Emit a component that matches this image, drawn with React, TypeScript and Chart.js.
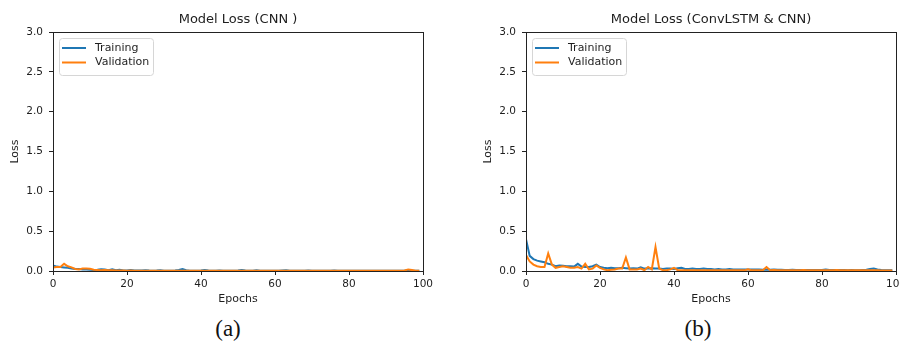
import React, { useEffect, useRef } from "react";
import { Chart, registerables } from "chart.js";

Chart.register(...registerables);

// Loss per epoch (epochs 0..99)
const cnnTraining = [
  0.07, 0.055, 0.05, 0.045, 0.04, 0.03, 0.025, 0.025, 0.02, 0.02,
  0.015, 0.012, 0.015, 0.022, 0.02, 0.01, 0.022, 0.01, 0.016, 0.006,
  0.006, 0.012, 0.006, 0.005, 0.006, 0.01, 0.005, 0.004, 0.005, 0.008,
  0.004, 0.004, 0.004, 0.005, 0.012, 0.025, 0.01, 0.004, 0.004, 0.004,
  0.006, 0.012, 0.006, 0.004, 0.003, 0.007, 0.003, 0.003, 0.003, 0.003,
  0.006, 0.011, 0.005, 0.003, 0.004, 0.008, 0.003, 0.003, 0.003, 0.003,
  0.003, 0.003, 0.005, 0.008, 0.003, 0.003, 0.003, 0.003, 0.003, 0.006,
  0.003, 0.003, 0.003, 0.003, 0.003, 0.004, 0.007, 0.003, 0.003, 0.003,
  0.003, 0.003, 0.003, 0.003, 0.003, 0.003, 0.003, 0.003, 0.003, 0.003,
  0.003, 0.003, 0.003, 0.003, 0.003, 0.004, 0.01, 0.006, 0.004, 0.003,
];

const cnnValidation = [
  0.045, 0.05, 0.05, 0.09, 0.06, 0.045, 0.025, 0.02, 0.03, 0.03,
  0.028, 0.015, 0.012, 0.01, 0.012, 0.008, 0.01, 0.006, 0.006, 0.005,
  0.004, 0.006, 0.004, 0.003, 0.003, 0.003, 0.003, 0.003, 0.003, 0.003,
  0.003, 0.003, 0.003, 0.003, 0.003, 0.003, 0.003, 0.003, 0.003, 0.003,
  0.003, 0.003, 0.003, 0.003, 0.003, 0.003, 0.003, 0.003, 0.003, 0.003,
  0.003, 0.003, 0.003, 0.003, 0.003, 0.003, 0.003, 0.003, 0.003, 0.003,
  0.003, 0.003, 0.003, 0.003, 0.003, 0.003, 0.003, 0.003, 0.003, 0.003,
  0.003, 0.003, 0.003, 0.003, 0.003, 0.003, 0.003, 0.003, 0.003, 0.003,
  0.003, 0.003, 0.003, 0.003, 0.003, 0.003, 0.003, 0.003, 0.003, 0.003,
  0.003, 0.003, 0.003, 0.003, 0.003, 0.006, 0.02, 0.012, 0.004, 0.002,
];

const hybridTraining = [
  0.4, 0.19, 0.15, 0.13, 0.12, 0.11, 0.09, 0.08, 0.06, 0.07,
  0.065, 0.06, 0.06, 0.055, 0.09, 0.055, 0.05, 0.05, 0.06, 0.08,
  0.05, 0.04, 0.035, 0.04, 0.035, 0.035, 0.04, 0.035, 0.03, 0.035,
  0.03, 0.045, 0.03, 0.03, 0.035, 0.03, 0.03, 0.025, 0.03, 0.03,
  0.025, 0.035, 0.04, 0.025, 0.025, 0.03, 0.025, 0.025, 0.03, 0.025,
  0.025, 0.02, 0.025, 0.02, 0.02, 0.025, 0.02, 0.02, 0.02, 0.02,
  0.02, 0.02, 0.02, 0.018, 0.015, 0.02, 0.015, 0.02, 0.015, 0.015,
  0.014, 0.013, 0.015, 0.012, 0.014, 0.013, 0.012, 0.014, 0.012, 0.012,
  0.012, 0.018, 0.012, 0.012, 0.011, 0.012, 0.011, 0.01, 0.011, 0.01,
  0.01, 0.012, 0.015, 0.025, 0.03, 0.02, 0.012, 0.01, 0.01, 0.01,
];

const hybridValidation = [
  0.2, 0.12, 0.08, 0.06, 0.05, 0.05, 0.22, 0.08, 0.04, 0.05,
  0.06, 0.05, 0.04, 0.04, 0.05, 0.03, 0.09, 0.02, 0.03, 0.07,
  0.04, 0.02, 0.01, 0.015, 0.02, 0.03, 0.03, 0.17, 0.02, 0.02,
  0.02, 0.03, 0.01, 0.05, 0.02, 0.3, 0.03, 0.01, 0.01, 0.02,
  0.04, 0.01, 0.01, 0.008, 0.01, 0.008, 0.008, 0.008, 0.008, 0.008,
  0.01, 0.008, 0.008, 0.008, 0.008, 0.008, 0.008, 0.008, 0.008, 0.008,
  0.02, 0.008, 0.008, 0.008, 0.01, 0.05, 0.01, 0.012, 0.008, 0.008,
  0.008, 0.008, 0.008, 0.008, 0.008, 0.012, 0.008, 0.008, 0.008, 0.008,
  0.008, 0.008, 0.008, 0.008, 0.012, 0.008, 0.008, 0.01, 0.008, 0.008,
  0.008, 0.008, 0.008, 0.008, 0.008, 0.008, 0.006, 0.006, 0.005, 0.005,
];

const seriesNames = ["Training", "Validation"];
const seriesColors = ["#1f77b4", "#ff7f0e"];

const FONT = "'DejaVu Sans', sans-serif";
const INK = "#1e1e1e";

// Draws the full axes frame and the legend inside the plot area
const framePlugin = {
  id: "frameAndLegend",
  afterDatasetsDraw(chart: any) {
    const { ctx, chartArea: a } = chart;
    ctx.save();
    ctx.strokeStyle = "#222";
    ctx.lineWidth = 1;
    ctx.strokeRect(
      Math.round(a.left) + 0.5,
      Math.round(a.top) + 0.5,
      Math.round(a.right) - Math.round(a.left),
      Math.round(a.bottom) - Math.round(a.top)
    );

    // legend
    const bx = a.left + 6;
    const by = a.top + 6;
    const bw = 94;
    const bh = 37;
    ctx.beginPath();
    ctx.roundRect(bx + 0.5, by + 0.5, bw, bh, 3);
    ctx.fillStyle = "rgba(255,255,255,0.85)";
    ctx.fill();
    ctx.strokeStyle = "#d6d6d6";
    ctx.stroke();
    ctx.font = `11px ${FONT}`;
    ctx.textBaseline = "middle";
    ctx.textAlign = "left";
    seriesNames.forEach((name, i) => {
      const y = by + 10 + i * 14.5;
      ctx.beginPath();
      ctx.moveTo(bx + 3, y);
      ctx.lineTo(bx + 27, y);
      ctx.strokeStyle = seriesColors[i];
      ctx.lineWidth = 2;
      ctx.stroke();
      ctx.fillStyle = INK;
      ctx.fillText(name, bx + 36, y);
    });
    ctx.restore();
  },
};

type PanelProps = {
  title: string;
  training: number[];
  validation: number[];
  left: number;
  width: number;
  padRight: number;
};

function LossPanel({ title, training, validation, left, width, padRight }: PanelProps) {
  const ref = useRef<HTMLCanvasElement>(null);

  useEffect(() => {
    if (!ref.current) return;
    const toPoints = (vals: number[]) => vals.map((v, i) => ({ x: i, y: v }));
    const chart = new Chart(ref.current, {
      type: "line",
      data: {
        datasets: [
          {
            label: seriesNames[0],
            data: toPoints(training),
            borderColor: seriesColors[0],
            borderWidth: 2,
            pointRadius: 0,
            tension: 0,
            order: 1,
          },
          {
            label: seriesNames[1],
            data: toPoints(validation),
            borderColor: seriesColors[1],
            borderWidth: 2,
            pointRadius: 0,
            tension: 0,
            order: 0,
          },
        ],
      },
      options: {
        responsive: false,
        animation: false,
        devicePixelRatio: 1,
        layout: { padding: { left: 0, right: padRight, top: 0, bottom: 0 } },
        plugins: {
          legend: { display: false },
          tooltip: { enabled: false },
          title: {
            display: true,
            text: title,
            fullSize: false,
            color: INK,
            font: { family: FONT, size: 13, weight: "normal", lineHeight: 1.2 },
            padding: { top: 12, bottom: 4.4 },
          },
        },
        scales: {
          x: {
            type: "linear",
            min: 0,
            max: 100,
            border: { display: false },
            grid: { drawOnChartArea: false, drawTicks: true, tickLength: 4, color: "#222" },
            ticks: {
              stepSize: 20,
              padding: 2.5,
              color: INK,
              maxRotation: 0,
              font: { family: FONT, size: 10.5 },
            },
            title: {
              display: true,
              text: "Epochs",
              color: INK,
              font: { family: FONT, size: 11, lineHeight: 1.2 },
              padding: { top: 0, bottom: 4.4 },
            },
            afterFit(scale: any) {
              scale.height = 39;
              scale.paddingLeft = 0;
              scale.paddingRight = 0;
            },
          },
          y: {
            min: 0,
            max: 3,
            border: { display: false },
            grid: { drawOnChartArea: false, drawTicks: true, tickLength: 4, color: "#222" },
            ticks: {
              stepSize: 0.5,
              padding: 6,
              color: INK,
              font: { family: FONT, size: 10.5 },
              callback: (v: any) => Number(v).toFixed(1),
            },
            title: {
              display: true,
              text: "Loss",
              color: INK,
              font: { family: FONT, size: 11, lineHeight: 1.2 },
              padding: { top: 8.4, bottom: 0 },
            },
            afterFit(scale: any) {
              scale.width = 53;
              scale.paddingTop = 0;
              scale.paddingBottom = 0;
            },
          },
        },
      },
      plugins: [framePlugin],
    } as any);
    return () => chart.destroy();
  }, [title, training, validation, padRight]);

  return (
    <canvas
      ref={ref}
      width={width}
      height={310}
      style={{ position: "absolute", left, top: 0, width, height: 310 }}
    />
  );
}

const captionStyle: React.CSSProperties = {
  position: "absolute",
  top: 317,
  width: 100,
  textAlign: "center",
  fontFamily: "'Liberation Serif', serif",
  fontSize: 23,
  lineHeight: "24px",
  color: "#111",
};

export default function App() {
  return (
    <div
      style={{
        position: "fixed",
        left: 0,
        top: 0,
        width: 900,
        height: 345,
        background: "#fff",
        overflow: "hidden",
      }}
    >
      <LossPanel
        title="Model Loss (CNN )"
        training={cnnTraining}
        validation={cnnValidation}
        left={0}
        width={450}
        padRight={27}
      />
      <LossPanel
        title="Model Loss (ConvLSTM & CNN)"
        training={hybridTraining}
        validation={hybridValidation}
        left={473}
        width={427}
        padRight={4}
      />
      <div style={{ ...captionStyle, left: 178 }}>(a)</div>
      <div style={{ ...captionStyle, left: 648 }}>(b)</div>
    </div>
  );
}
